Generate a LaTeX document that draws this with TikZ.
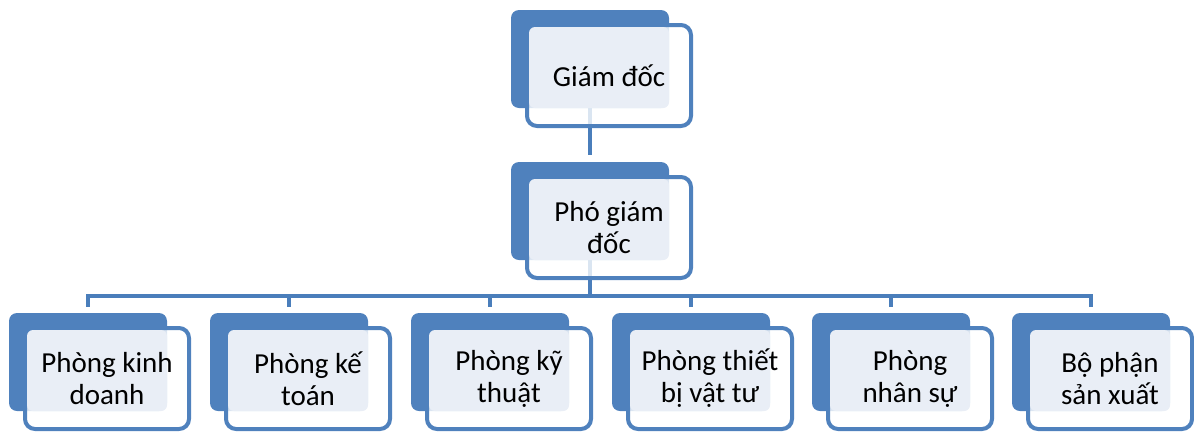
\documentclass[tikz,border=0pt]{standalone}
\usepackage{fontspec}
\setmainfont{Carlito}
\usetikzlibrary{calc}
\definecolor{boxblue}{HTML}{4F81BD}
\definecolor{connblue}{HTML}{4A7EBB}
\definecolor{panelfill}{HTML}{E9EEF6}
\pgfdeclarelayer{bg}
\pgfsetlayers{bg,main}
\tikzset{
  backbox/.style={fill=boxblue, draw=none, rounded corners=8pt, minimum width=158pt, minimum height=98pt, inner sep=0pt, outer sep=0pt},
  frontbox/.style={draw=boxblue, line width=4pt, fill=white, fill opacity=0.8, rounded corners=10pt, minimum width=164pt, minimum height=101pt, inner sep=0pt, outer sep=0pt},
  panelbox/.style={fill=panelfill, rounded corners=6pt},
  unitlabel/.style={font=\fontsize{29}{32}\selectfont, align=center, inner sep=0pt, text=black},
  conn/.style={draw=connblue, line width=4.5pt},
}
\newcommand{\orgunit}[4]{%
  \node[backbox, anchor=north west] (#1b) at (#2,#3) {};
  \node[frontbox] (#1f) at ($(#2,#3)+(98,65.5)$) {};
  \fill[panelbox] ($(#2,#3)+(18,17)$) rectangle ($(#2,#3)+(158,98)$);
  \node[unitlabel] (#1t) at (#1f) {#4};
}
\begin{document}
\begin{tikzpicture}[x=1pt,y=-1pt]
\useasboundingbox (0,0) rectangle (1194,432);
\orgunit{g}{511}{10}{Giám đốc}
\orgunit{p}{511}{162}{Phó giám\\đốc}
\orgunit{ca}{9}{313}{Phòng kinh\\doanh}
\orgunit{cb}{210}{313}{Phòng kế\\toán}
\orgunit{cc}{411}{313}{Phòng kỹ\\thuật}
\orgunit{cd}{612}{313}{Phòng thiết\\bị vật tư}
\orgunit{ce}{812}{313}{Phòng\\nhân sự}
\orgunit{cf}{1012}{313}{Bộ phận\\sản xuất}
\coordinate (bus) at (589,296);
\begin{pgfonlayer}{bg}
  \draw[conn, shorten >=7pt] (gb.south) -- (pb.north);
  \foreach \c in {ca,cb,cc,cd,ce,cf}{
    \draw[conn, shorten >=6pt] (pb.south) |- (\c b.north |- bus) -- (\c b.north);
  }
\end{pgfonlayer}
\end{tikzpicture}
\end{document}
